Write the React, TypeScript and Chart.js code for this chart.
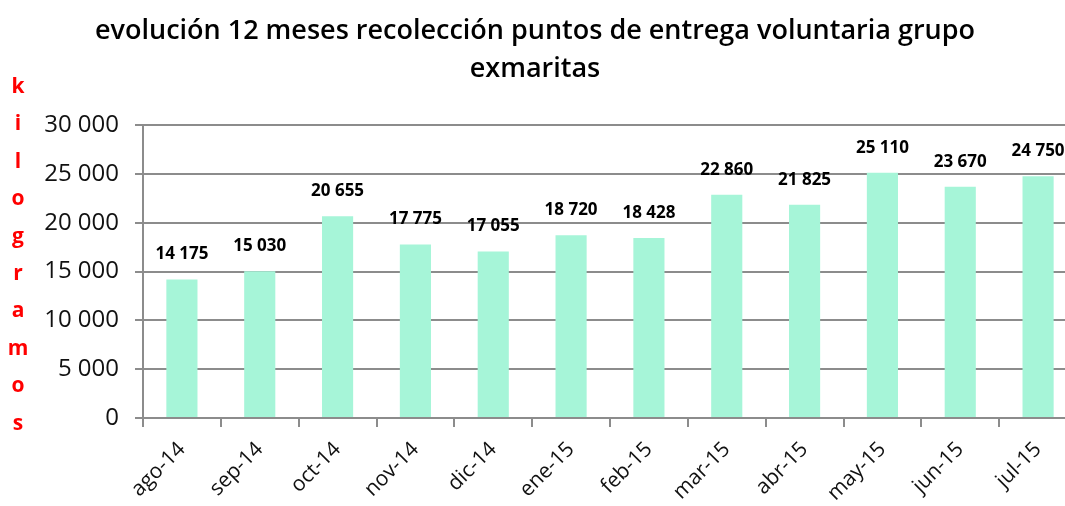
import React, { useEffect, useRef } from "react";
import { Chart, registerables } from "chart.js";

Chart.register(...registerables);

const categories = ["ago-14", "sep-14", "oct-14", "nov-14", "dic-14", "ene-15", "feb-15", "mar-15", "abr-15", "may-15", "jun-15", "jul-15"];
const kilos = [14175, 15030, 20655, 17775, 17055, 18720, 18428, 22860, 21825, 25110, 23670, 24750];
const titleLines = ["evolución 12 meses recolección puntos de entrega voluntaria grupo", "exmaritas"];
const yAxisLetters = ["k", "i", "l", "o", "g", "r", "a", "m", "o", "s"];

const fmt = (v: number) => {
  const s = Math.round(v).toString();
  return s.replace(/\B(?=(\d{3})+(?!\d))/g, " ");
};

const decorPlugin = {
  id: "decor",
  afterDraw(chart: any) {
    const ctx = chart.ctx;
    ctx.save();
    // title
    ctx.fillStyle = "#000";
    ctx.font = "600 27px 'Open Sans'";
    ctx.textAlign = "center";
    ctx.textBaseline = "middle";
    ctx.fillText(titleLines[0], 535, 31);
    ctx.fillText(titleLines[1], 535, 69);
    // vertical y label
    ctx.fillStyle = "#ff0000";
    ctx.font = "bold 21px 'Open Sans'";
    yAxisLetters.forEach((l, i) => {
      ctx.fillText(l, 18, 87 + i * 37.4);
    });
    // data labels
    ctx.fillStyle = "#000";
    ctx.font = "bold 17px 'Open Sans'";
    const meta = chart.getDatasetMeta(0);
    meta.data.forEach((bar: any, i: number) => {
      ctx.fillText(fmt(kilos[i]), bar.x, bar.y - 25);
    });
    ctx.restore();
  },
};

export default function App() {
  const ref = useRef<HTMLCanvasElement | null>(null);
  useEffect(() => {
    document.body.style.margin = "0";
    const chart = new Chart(ref.current as HTMLCanvasElement, {
      type: "bar",
      data: {
        labels: categories,
        datasets: [
          {
            data: kilos,
            backgroundColor: "#a6f5d8",
            barPercentage: 0.4,
            categoryPercentage: 1,
          },
        ],
      },
      options: {
        animation: false,
        responsive: true,
        maintainAspectRatio: false,
        layout: { padding: { top: 125, left: 0, right: 0, bottom: 0 } },
        plugins: { legend: { display: false }, title: { display: false }, tooltip: { enabled: false } },
        scales: {
          x: {
            grid: { drawOnChartArea: false, drawTicks: true, tickLength: 9, color: "#8c8c8c", lineWidth: 2 },
            border: { color: "#8c8c8c", width: 2 },
            ticks: {
              minRotation: 45,
              maxRotation: 45,
              color: "#111",
              font: { family: "'Open Sans'", size: 21 },
              padding: 10,
            },
            afterFit: (s: any) => {
              s.height = 88;
            },
          },
          y: {
            min: 0,
            max: 30000,
            ticks: {
              stepSize: 5000,
              color: "#111",
              font: { family: "'Open Sans'", size: 24 },
              callback: (v: any) => fmt(Number(v)),
              padding: 16,
            },
            grid: { color: "#8c8c8c", lineWidth: 2, tickLength: 8 },
            border: { color: "#8c8c8c", width: 2 },
            afterFit: (s: any) => {
              s.width = 143;
            },
          },
        },
      },
      plugins: [decorPlugin],
    });
    return () => chart.destroy();
  }, []);
  return (
    <div style={{ width: 1065, height: 506, overflow: "hidden" }}>
      <div style={{ width: 1077, height: 506, position: "relative" }}>
        <canvas ref={ref} />
      </div>
    </div>
  );
}
